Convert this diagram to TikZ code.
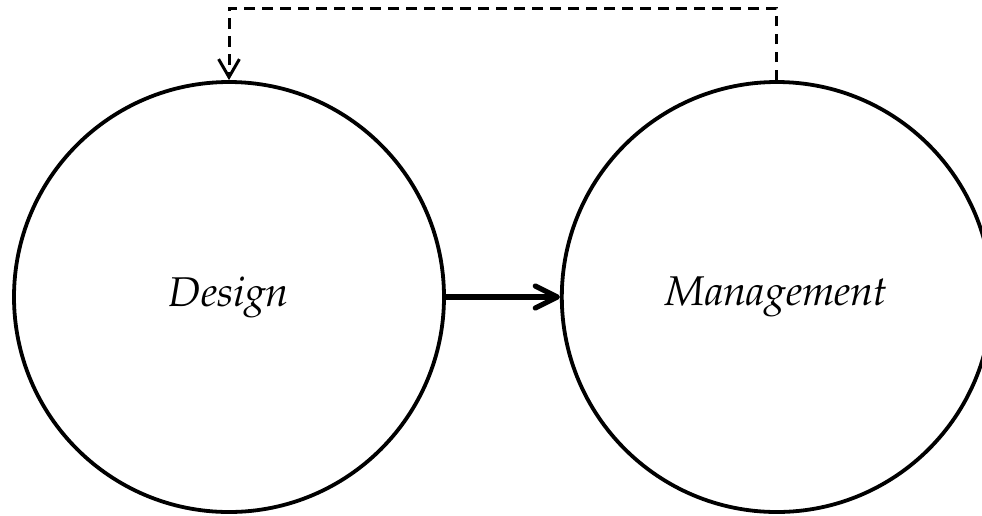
\documentclass[tikz,border=0pt]{standalone}
\usepackage[T1]{fontenc}
\usepackage{mathpazo}
\usetikzlibrary{arrows.meta,positioning}
\tikzset{
  every picture/.style={line width=0.95pt, x=0.25pt, y=-0.25pt},
  phase/.style={draw, circle, minimum size=107.5pt, inner sep=0pt, font=\fontsize{10.4}{12.5}\selectfont\itshape},
  flow/.style={-{Straight Barb[length=5.5pt,width=5.5pt,round]}, line width=1.3pt},
  back/.style={-{Straight Barb[length=4.5pt,width=5.2pt]}, dash pattern=on 2.6pt off 1.9pt, line width=0.75pt},
}

\begin{document}
\begin{tikzpicture}
  \useasboundingbox (0,0) rectangle (982,515);
  \node[phase] (design) at (229,297) {Design};
  \node[phase, right=28.5pt of design] (mgmt) {Management};
  \draw[flow] (design) -- (mgmt);
  \draw[back] (mgmt.north) -- ++(0,-72) -| (design.north);
\end{tikzpicture}
\end{document}
